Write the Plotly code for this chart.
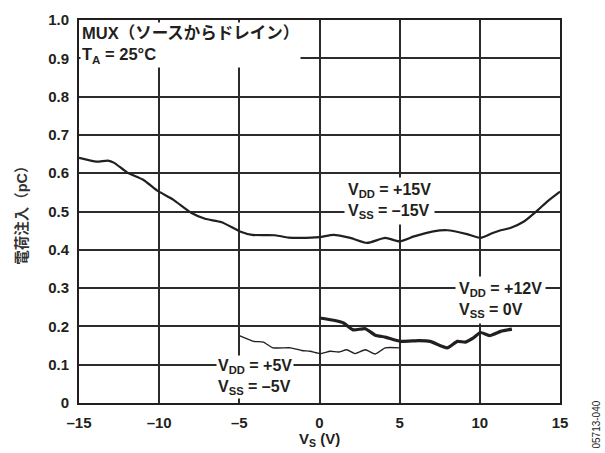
import plotly.graph_objects as go

# Charge injection vs source voltage, three supply configurations
vs_15 = [-15, -13.9, -13.2, -12.8, -12.0, -11.0, -10.06, -9.13, -7.98, -7.14, -6.1, -4.96,
         -4.2, -2.77, -1.94, -1.2, 0, 0.875, 1.92, 2.96, 4.1, 4.98, 5.9, 7.1, 7.96, 9.2,
         10.04, 10.8, 11.3, 11.9, 12.75, 13.6, 14.2, 15.0]
qinj_15 = [0.640, 0.630, 0.633, 0.627, 0.602, 0.583, 0.553, 0.531, 0.496, 0.481, 0.472, 0.448,
           0.439, 0.438, 0.432, 0.431, 0.433, 0.439, 0.431, 0.418, 0.431, 0.422, 0.435, 0.448,
           0.451, 0.441, 0.431, 0.444, 0.451, 0.457, 0.474, 0.503, 0.526, 0.552]

vs_5 = [-5.0, -4.1, -3.5, -2.9, -1.8, -1.1, -0.58, 0.04, 0.67, 1.19, 1.7, 2.23, 2.86, 3.48,
        4.1, 5.0]
qinj_5 = [0.176, 0.161, 0.159, 0.144, 0.144, 0.137, 0.135, 0.129, 0.135, 0.133, 0.139, 0.129,
          0.139, 0.128, 0.144, 0.144]

vs_12 = [0.0, 0.875, 1.5, 2.1, 2.86, 3.48, 4.1, 5.04, 6.2, 6.9, 7.96, 8.6, 9.1, 9.6, 10.04,
         10.6, 11.3, 12.0]
qinj_12 = [0.222, 0.216, 0.209, 0.191, 0.194, 0.177, 0.172, 0.161, 0.163, 0.161, 0.144, 0.161,
           0.159, 0.170, 0.184, 0.176, 0.187, 0.193]

x_ticks = [-15, -10, -5, 0, 5, 10, 15]
x_tick_labels = ["–15", "–10", "–5", "0", "5", "10", "15"]
y_ticks = [0, 0.1, 0.2, 0.3, 0.4, 0.5, 0.6, 0.7, 0.8, 0.9, 1.0]
y_tick_labels = ["0", "0.1", "0.2", "0.3", "0.4", "0.5", "0.6", "0.7", "0.8", "0.9", "1.0"]

LATIN = "Liberation Sans, Arial, sans-serif"
CJK = "Liberation Sans, Noto Sans CJK JP, sans-serif"
INK = "#231f20"
GRID = "#2b2b2b"

fig = go.Figure()
fig.add_trace(go.Scatter(x=vs_15, y=qinj_15, mode="lines",
                         line=dict(color=INK, width=2.2, shape="spline", smoothing=0.6)))
fig.add_trace(go.Scatter(x=vs_5, y=qinj_5, mode="lines",
                         line=dict(color=INK, width=1.4, shape="spline", smoothing=0.5)))
fig.add_trace(go.Scatter(x=vs_12, y=qinj_12, mode="lines",
                         line=dict(color=INK, width=3.2, shape="spline", smoothing=0.5)))

axis_common = dict(
    showgrid=True, gridcolor=GRID, gridwidth=1.5,
    showline=True, linecolor=INK, linewidth=1.8, mirror=True,
    zeroline=False, ticks="", color=INK,
    tickfont=dict(family=LATIN, size=15, color=INK, weight="bold"),
)

fig.update_layout(
    width=605, height=453,
    margin=dict(l=79, r=45, t=20, b=50),
    paper_bgcolor="white", plot_bgcolor="white",
    showlegend=False,
    xaxis=dict(range=[-15, 15], tickvals=x_ticks, ticktext=x_tick_labels, ticklabelstandoff=5,
               **axis_common),
    yaxis=dict(range=[0, 1.0], tickvals=y_ticks, ticktext=y_tick_labels, ticklabelstandoff=5,
               **axis_common),
)

def label(text, x, y, xanchor="left", yanchor="middle", pad=3, size=16):
    fig.add_annotation(
        text=text, x=x, y=y, xref="x", yref="y", showarrow=False,
        xanchor=xanchor, yanchor=yanchor, align="left",
        bgcolor="white", borderpad=pad,
        font=dict(family=CJK, size=size, color=INK, weight="bold"),
    )

label("MUX（ソースからドレイン）<br>T<sub>A</sub> = 25°C", -14.95, 0.995,
      xanchor="left", yanchor="top", pad=1, size=16.5)
label("V<sub>DD</sub> = +15V<br>V<sub>SS</sub> = –15V", 1.5, 0.527, pad=3)
label("V<sub>DD</sub> = +12V<br>V<sub>SS</sub> = 0V", 8.45, 0.27, pad=3)
label("V<sub>DD</sub> = +5V<br>V<sub>SS</sub> = –5V", -6.45, 0.069, pad=1)

# Axis titles
fig.add_annotation(
    text="電荷注入（pC）", textangle=-90, x=-0.12, y=0.5, xref="paper", yref="paper",
    showarrow=False, xanchor="center", yanchor="middle",
    font=dict(family=CJK, size=14.5, color="#333333", weight="bold"),
)
fig.add_annotation(
    text="V<sub>S</sub> (V)", x=0.5, y=-0.065, xref="paper", yref="paper",
    showarrow=False, xanchor="center", yanchor="top",
    font=dict(family=LATIN, size=15, color=INK, weight="bold"),
)
fig.add_annotation(
    text="05713-040", textangle=-90, x=1.075, y=-0.056, xref="paper", yref="paper",
    showarrow=False, xanchor="center", yanchor="middle",
    font=dict(family=LATIN, size=10, color=INK),
)

fig.write_html("out.html")
